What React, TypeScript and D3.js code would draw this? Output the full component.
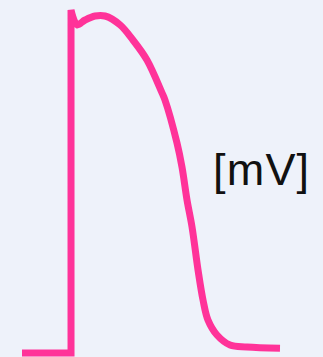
import React from "react";
import * as d3 from "d3";

// Cardiac action potential: membrane voltage over time
const timeMs = [0, 57, 57, 64, 73.3, 84.9, 96.5, 114, 129, 145.3, 162.8, 166.3, 180.2, 186, 191.9, 197.7, 204.7, 210.5, 216.3, 226.7, 241.9, 261.6, 300];
const voltageMv = [-90, -90, 30, 24.8, 26.5, 27.9, 27.9, 24.8, 19.5, 12.5, 1.0, -1.5, -16.5, -24.9, -36.5, -45.9, -61, -71.5, -78.5, -83.7, -87.2, -87.9, -88.3];
const unitLabel = "[mV]";

const WIDTH = 323;
const HEIGHT = 357;

export default function App() {
  const x = d3.scaleLinear().domain([0, 300]).range([22, 280]);
  const y = d3.scaleLinear().domain([-90, 30]).range([353, 10]);

  const pts: [number, number][] = timeMs.map((t, i) => [t, voltageMv[i]]);

  // Resting level and the sharp upstroke are straight segments
  const stepLine = d3
    .line<[number, number]>()
    .x((d) => x(d[0]))
    .y((d) => y(d[1]))
    .curve(d3.curveLinear);

  // Notch, plateau and repolarisation are smooth
  const smoothLine = d3
    .line<[number, number]>()
    .x((d) => x(d[0]))
    .y((d) => y(d[1]))
    .curve(d3.curveCatmullRom.alpha(0.5));

  const stepPath = stepLine(pts.slice(0, 3)) || "";
  const smoothPath = (smoothLine(pts.slice(2)) || "").replace(/^M[^LCQ]*/, "");
  const d = stepPath + smoothPath;

  return (
    <svg
      width={WIDTH}
      height={HEIGHT}
      style={{ position: "fixed", left: 0, top: 0, display: "block" }}
    >
      <rect width={WIDTH} height={HEIGHT} fill="#eef2fa" />
      <path
        d={d}
        fill="none"
        stroke="#ff3399"
        strokeWidth={7}
        strokeLinejoin="miter"
      />
      <text
        x={213}
        y={185}
        fontFamily="'Liberation Sans', Arial, sans-serif"
        fontSize={45}
        letterSpacing={1.2}
        fill="#111"
      >
        {unitLabel}
      </text>
    </svg>
  );
}
